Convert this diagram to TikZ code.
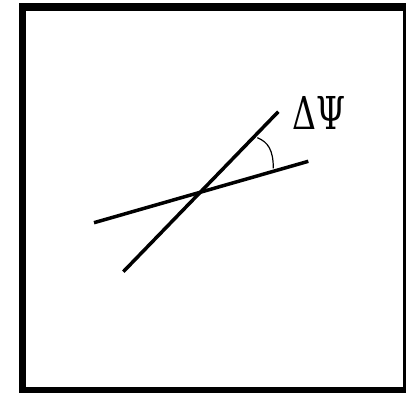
\documentclass[tikz,border=0pt]{standalone}
\usepackage{fontspec}
\setmainfont{DejaVu Serif}
\usepackage{graphicx}
\begin{document}
\begin{tikzpicture}[x=1pt,y=1pt,
  frame/.style={line width=7.5pt},
  ray/.style={line width=3.5pt},
  anglearc/.style={line width=1.2pt}]
\useasboundingbox (0,0) rectangle (406,392);
\draw[frame] (22.5,385) rectangle (406.5,1.5);
\coordinate (a1) at (123.3,120.3);
\coordinate (a2) at (278.3,280.3);
\coordinate (b1) at (94,169.3);
\coordinate (b2) at (308.3,230.7);
\draw[ray] (a1) -- (a2);
\draw[ray] (b1) -- (b2);
\coordinate (s) at (257.3,254.3);
\coordinate (e) at (273.3,223.7);
\draw[anglearc] (s) .. controls (268,250) and (273.3,242) .. (e);
\node[inner sep=0pt] (lbl) at (318.8,278.7) {\resizebox{53pt}{33pt}{ΔΨ}};
\end{tikzpicture}
\end{document}
